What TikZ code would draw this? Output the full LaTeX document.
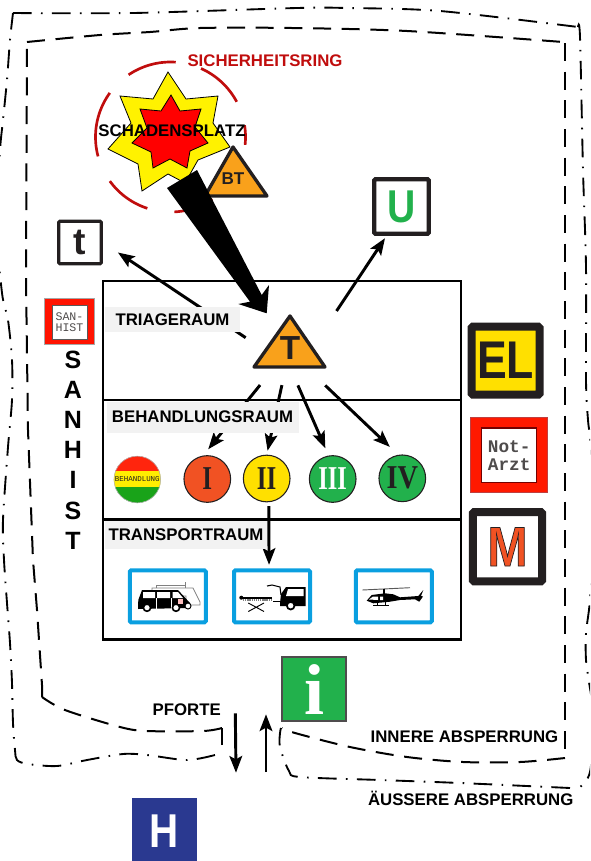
\documentclass[tikz,border=0pt]{standalone}
\usepackage{fontspec}
\usepackage{graphicx}
\setmainfont{Liberation Sans}
\newfontfamily\serf{Liberation Serif}
\newfontfamily\monof{Liberation Mono}
\usetikzlibrary{arrows.meta}
\definecolor{ink}{HTML}{231F20}
\definecolor{ringred}{HTML}{C00D0D}
\definecolor{orangeT}{HTML}{F9A11B}
\definecolor{greenS}{HTML}{22B14C}
\definecolor{redI}{HTML}{F15223}
\definecolor{yellowS}{HTML}{FFE000}
\definecolor{blueS}{HTML}{0A9FE0}
\definecolor{navyH}{HTML}{2A3990}
\definecolor{labbg}{HTML}{F2F2F2}
\newcommand{\lab}{\bfseries\fontsize{12.6}{15}\selectfont}
\newcommand{\outl}[1]{\special{pdf:code 2 Tr 0.6 w 0.14 0.12 0.13 RG}#1\special{pdf:code 0 Tr}}
\tikzset{
  inner/.style={line width=1.5pt,dash pattern=on 13.5pt off 8pt,black},
  outer/.style={line width=1.4pt,dash pattern=on 14pt off 7pt on 1.2pt off 7pt,black},
  room/.style={draw=black,line width=1.7pt,minimum width=268.5pt,inner sep=0pt},
  arr/.style={line width=2.2pt,black,-{Stealth[length=12.5pt,width=9.5pt,inset=2.5pt]}},
  textlab/.style={anchor=base,inner sep=0pt,font=\lab},
  roomlab/.style={fill=labbg,inner sep=0pt,font=\lab},
  disc/.style={circle,draw=ink,line width=.8pt,minimum size=35pt,inner sep=0pt,font=\serf\bfseries\fontsize{25}{25}\selectfont,text=ink},
  bluebox/.style={draw=blueS,line width=3pt,rounded corners=1pt,minimum width=57pt,minimum height=39pt,inner sep=0pt},
  tribox/.style={draw=ink,line width=2.5pt,line join=round,fill=orangeT},
  blackbox/.style={draw=ink,rounded corners=1pt,fill=white,inner sep=0pt}
}
\begin{document}
\begin{tikzpicture}[x=.75pt,y=-.75pt]
\useasboundingbox (0,0) rectangle (590,861);
\clip (0,0) rectangle (590,861);
% barriers
\draw[outer] plot[smooth,tension=.5] coordinates {(215,755) (187,760) (147,755) (123,754) (87,760) (57,766) (28,764) (17,760) (15,750) (13,723) (12,683) (10,643) (7,603) (4,560) (3,520) (8,447) (12,400) (12,360) (8,320) (2,293) (-4,220) (0,150) (3,120) (7,80) (10,40) (13,13)};
\draw[outer] plot[smooth,tension=.5] coordinates {(13,13) (133,13) (297,8) (347,8) (440,11) (578,27)};
\draw[outer] plot[smooth,tension=.5] coordinates {(578,27) (580,37) (583,170) (586,267) (586,380) (588,420) (591,450) (593,540) (590,600) (586,633) (586,660) (589,682) (594,720) (590,772) (580,787)};
\draw[outer] plot[smooth,tension=.5] coordinates {(570,788) (460,783) (380,780) (300,777) (289,771) (280,747) (280,733) (281,728)};
\draw[inner] plot[smooth,tension=.4] coordinates {(222,745) (222,728)};
\draw[inner] plot[smooth,tension=.5] coordinates {(222,728) (203,731) (147,731) (120,727) (65,710) (42,697)};
\draw[inner] (42,697) -- (42,685) -- (37,610) -- (33,560) -- (28,430) -- (26,280) -- (27,42);
\draw[inner] plot[smooth,tension=.5] coordinates {(27,42) (100,35) (150,32) (200,28) (292,28) (407,31) (563,42)};
\draw[inner] (565,43) -- (565,758);
\draw[inner] plot[smooth,tension=.5] coordinates {(565,758) (520,762) (463,762) (407,757) (350,747) (295,733) (282,728)};
% rooms
\node[room,minimum height=89pt] (triage) at (282,340.5) {};
\node[room,minimum height=89pt] (treat) at (282,459.5) {};
\node[room,minimum height=90pt] (trans) at (282,579.5) {};
% ring
\foreach \a/\b in {236/274,294/332,-9/6,56/87,108/144,165/216}
  \draw[ringred,line width=2pt] plot[domain=\a:\b,samples=24] ({170.5+75*cos(\x)},{137+75*sin(\x)});
% stars
\draw[fill=yellow,draw=black,line width=.6pt] (168,72)--(153,99)--(120,96)--(131,123)--(108,149)--(138,164)--(142,191)--(168,174)--(185,183)--(198,160)--(230,147)--(213,123)--(218,96)--(186,99)--cycle;
\draw[fill=red,draw=black,line width=.6pt] (171,95)--(161,111)--(140,109)--(147,128)--(132,143)--(151,152)--(153,168)--(170,159)--(187,168)--(190,151)--(208,143)--(195,127)--(201,109)--(180,111)--cycle;
\node[textlab] (site) at (172,136) {SCHADENSPLATZ};
\node[textlab,text=ringred] (ringlab) at (265,66) {SICHERHEITSRING};
% BT
\draw[tribox] (233,147)--(267,196)--(205,196)--cycle;
\node[inner sep=0pt,font=\bfseries\fontsize{12.8}{14}\selectfont,text=ink] (BT) at (233,178.5) {BT};
% wedge
\fill[black] (167,188)--(197,170)--(261.7,295)--(269,285)--(266.7,313.3)--(238.3,304)--(250,301.7)--cycle;
% triage triangle
\draw[tribox] (290,316)--(325,367)--(254,367)--cycle;
\node[minimum width=53pt,minimum height=28.5pt,inner sep=0pt,font=\bfseries\fontsize{25}{25}\selectfont,text=ink] (T) at (290,348) {T};
% top icons
\node[blackbox,line width=2.4pt,minimum size=32pt,font=\bfseries\fontsize{28}{28}\selectfont,text=ink] (t) at (80,242.5) {t};
\node[blackbox,line width=3.2pt,minimum width=41pt,minimum height=41pt] (U) at (401.5,206.5) {};
\node[inner sep=0pt,text=greenS,font=\bfseries\fontsize{34.5}{34.5}\selectfont] (Ulet) at (401.5,206.5) {\scalebox{.85}[1]{U}};
% sanhist
\node[draw=gray!70,line width=.7pt,fill=red!85!orange,minimum width=37pt,minimum height=35pt,inner sep=0pt] (sanbox) at (69.3,321.3) {};
\node[fill=white,draw=gray!70!black,line width=.4pt,minimum width=26.5pt,minimum height=25.5pt,inner sep=0pt,align=center,text=ink!80,font=\monof\fontsize{8.7}{8.3}\selectfont] (san) at (69.5,322) {SAN-\\HIST};
\node[inner sep=0pt,align=center,font=\bfseries\fontsize{18.75}{22.6}\selectfont] (sanv) at (73,450) {S\\A\\N\\H\\I\\S\\T};
% discs
\begin{scope}
\clip (137.3,479.5) circle [radius=23.5];
\fill[red!80!orange!95] (110,450) rectangle (165,472);
\fill[yellow!95!orange] (110,471) rectangle (165,488);
\fill[green!60!black!90] (110,487) rectangle (165,510);
\end{scope}
\node[circle,minimum size=35pt,inner sep=0pt,draw=gray!60,line width=.4pt,font=\monof\fontsize{5.6}{6}\selectfont,text=ink] (B) at (137.3,479.5) {BEHANDLUNG};
\node[disc,fill=redI] (I) at (207.3,479) {\scalebox{.75}[1]{I}};
\node[disc,fill=yellowS] (II) at (266.7,478.5) {\scalebox{.75}[1]{II}};
\node[disc,fill=greenS,text=white] (III) at (332.7,479) {\scalebox{.73}[1]{III}};
\node[disc,fill=greenS] (IV) at (402.3,478.3) {\scalebox{.85}[1]{IV}};
% transport boxes
\node[bluebox] (van) at (167.8,596.3) {};
\node[bluebox] (amb) at (272,596.3) {};
\node[bluebox] (heli) at (393.8,596.3) {};
% van pictogram
\draw[gray,line width=.6pt,fill=white] (152,588)--(193,588)--(200,602)--(200,605)--(186,605)--(186,596)--(152,596)--cycle;
\draw[gray,line width=.6pt] (156,585)--(185,585) (156,585)--(156,588) (185,582)--(185,588);
\fill[black] (138.3,600)--(142,590)--(178,590)--(190,603)--(190,608)--(138,609)--cycle;
\fill[white] (143,592) rectangle (155,598) (157,592) rectangle (170,598) (172.5,592)--(178,592)--(183,598)--(172.5,598)--cycle;
\draw[white,line width=.5pt] (156,598)--(156,609) (171,598)--(171,609);
\fill[red!25] (178,599) rectangle (183,604);
\foreach \wx in {147,176}{\draw[black,fill=white,line width=1.2pt] (\wx,607.7) circle [radius=3.6];}
\draw[black,fill=white,line width=.7pt] (188,606) circle [radius=3];
% stretcher and rear of van
\draw[black,line width=1pt] (241,598)--(271.7,598);
\fill[black] (241.3,597.7) circle [radius=2];
\draw[gray,line width=.8pt,dash pattern=on 1pt off .6pt] (243,600)--(271,600);
\draw[black,line width=.7pt] (248.3,611.5)--(264,603) (248.3,603)--(264,611.5);
\draw[black,line width=.8pt] (273,601.7)--(280,601.7);
\draw[black,line width=.8pt] (267,586)--(272,585)--(280,587)--(281,595);
\fill[black] (280,603)--(281,594)--(286,587)--(305.7,587)--(305.7,606)--(280,606)--cycle;
\fill[white] (288,589)--(303.5,589)--(303.5,596)--(286,596)--cycle;
\draw[black,fill=white,line width=1.3pt] (290.7,605.7) circle [radius=3.8];
% helicopter
\draw[gray!70!black,line width=.7pt] (362.3,590)--(410,587.7);
\draw[black,line width=.8pt] (384,589)--(384,594);
\fill[black] (366.7,600.7)--(371.7,595)--(385,593.3)--(393.3,594.3)--(400,597.3)--(418.3,596)--(423.3,590)--(421,596)--(423,596.5)--(419.3,601.7)--(415,599.3)--(400,600)--(390,601.7)--(373.3,603.3)--cycle;
\fill[white] (369,599.5)--(373,596.5)--(378,596.5)--(378,600)--cycle (380,596.5) rectangle (383,600);
\draw[black,line width=.6pt] (373.3,605)--(389.3,605) (377,603)--(377,605) (385,602)--(385,605);
% right icons
\node[draw=ink,fill=yellowS,line width=6pt,rounded corners=1pt,minimum width=51pt,minimum height=51pt,inner sep=0pt,text=ink,font=\bfseries\fontsize{39.8}{40}\selectfont] (EL) at (505.6,360.7) {\scalebox{.84}[1]{EL}};
\node[draw=gray!50!red,fill=red!80!orange,line width=.5pt,minimum width=58pt,minimum height=56.2pt,inner sep=0pt] (NAbox) at (508.7,455.2) {};
\node[fill=white,draw=red!45!black,line width=.9pt,minimum width=41.2pt,minimum height=41pt,inner sep=0pt,align=center,text=ink!80,font=\monof\bfseries\fontsize{13.3}{13.5}\selectfont] (NA) at (509.2,455.4) {Not-\\Arzt};
\node[blackbox,line width=6pt,minimum width=52pt,minimum height=52pt,text=redI,font=\bfseries\fontsize{42}{42}\selectfont] (M) at (507.5,546.8) {\scalebox{.86}[1]{\outl{M}}};
% info
\node[draw=ink!80,fill=greenS,line width=1.1pt,minimum width=48pt,minimum height=48pt,inner sep=0pt] (info) at (314.2,688.8) {};
\node[anchor=base,inner sep=0pt,text=white,font=\serf\bfseries\fontsize{54}{54}\selectfont] (ilet) at (314.5,714) {i};
% hospital
\node[fill=navyH,minimum width=48.7pt,minimum height=49pt,inner sep=0pt] (Hbox) at (164.2,830.5) {};
\node[anchor=base,inner sep=0pt,text=white,font=\bfseries\fontsize{35.6}{36}\selectfont] (Hlet) at (164.2,847.3) {\scalebox{.85}[1]{H}};
% connectors
\draw[arr,shorten <=40pt,shorten >=13.5pt] (T.south) -- (t.east);
\draw[arr,shorten <=16pt,shorten >=2pt] (T.29) -- (U.243);
\draw[arr,shorten <=35.7pt,shorten >=6pt] (T.center) -- (I.100);
\draw[arr,shorten <=28.5pt,shorten >=3pt] (T.center) -- (II.north);
\draw[arr,shorten <=14.8pt,shorten >=6pt] (T.south) -- (III.100);
\draw[arr,shorten <=19.7pt,shorten >=8.6pt] (T.-50) -- (IV.100);
\draw[arr,shorten <=2.9pt,shorten >=2.6pt] (II.-85) -- (amb.96);
\coordinate (inTop) at (235.3,713.3);
\coordinate (inEnd) at (236,772.7);
\coordinate (outBot) at (266,772);
\coordinate (outEnd) at (266,714.3);
\draw[arr] (inTop) -- (inEnd);
\draw[arr] (outBot) -- (outEnd);
% labels
\node[roomlab,minimum width=101pt,minimum height=18.3pt] (lt) at (172.5,319.5) {TRIAGERAUM};
\node[roomlab,minimum width=144pt,minimum height=23pt] (lb) at (202.5,417.2) {BEHANDLUNGSRAUM};
\node[roomlab,minimum width=121.5pt,minimum height=20.7pt] (lz) at (186,534.8) {TRANSPORTRAUM};
\node[textlab] (pf) at (186.7,715) {PFORTE};
\node[textlab] (ia) at (464.5,742) {INNERE ABSPERRUNG};
\node[textlab] (aa) at (470.7,805) {ÄUSSERE ABSPERRUNG};
\end{tikzpicture}
\end{document}
